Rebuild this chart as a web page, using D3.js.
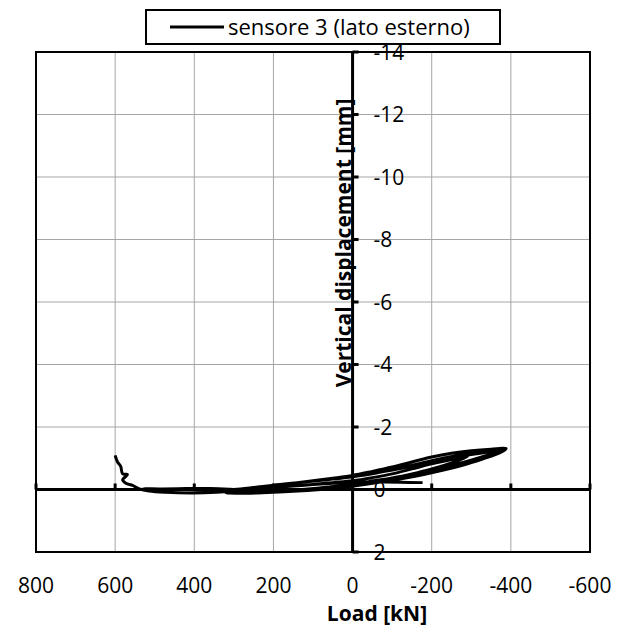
<!DOCTYPE html>
<html>
<head>
<meta charset="utf-8">
<script src="https://cdn.jsdelivr.net/npm/d3@7"></script>
<style>
  body { margin: 0; background: #fff; }
  text { font-family: "Open Sans", sans-serif; fill: #000; }
</style>
</head>
<body>
<div id="dataViz"></div>
<script>
const width = 630;
const height = 633;
const margin = { top: 52, right: 40, bottom: 81, left: 36 };

// axis ticks
const xTicks = [800, 600, 400, 200, 0, -200, -400, -600];
const yTicks = [-14, -12, -10, -8, -6, -4, -2, 0, 2];

// Load [kN]
const loadKN = [
  600, 594, 586, 581, 569, 581, 573, 556, 539, 514, 472, 404, 345, 303,
  250, 200, 150, 100, 50, 0, -50, -100, -150, -200, -250, -290,
  -250, -200, -150, -100, -50, 0, 50, 100, 150, 200, 250, 300,
  250, 200, 150, 100, 50, 0, -50, -100, -150, -200, -250, -300, -350, -388,
  -370, -330, -280, -230, -180, -130, -80, -30, 20, 80, 150, 220, 290, 320,
  260, 200, 140, 80, 20, -40, -100, -160, -220, -280, -330, -370, -385,
  -360, -310, -260, -210, -160, -110, -60, -10, 40, 100, 170, 240, 300,
  360, 420, 480, 530, 480, 420, 360, 300,
  240, 180, 120, 60, 0, -60, -120, -180, -240, -300, -350, -375,
  -350, -300, -250, -200, -150, -100, -50, 0, 60, 120, 180, 250, 280,
  220, 160, 100, 40, 0, -60, -120, -177
];

// Vertical displacement [mm]
const dispMM = [
  -1.09, -0.88, -0.74, -0.50, -0.48, -0.31, -0.20, -0.13, -0.02, 0.05, 0.09, 0.11, 0.09, 0.05,
  0.00, -0.06, -0.11, -0.16, -0.22, -0.28, -0.38, -0.50, -0.66, -0.82, -0.96, -1.05,
  -0.85, -0.66, -0.50, -0.36, -0.24, -0.14, -0.06, 0.00, 0.05, 0.09, 0.11, 0.09,
  -0.02, -0.12, -0.20, -0.28, -0.36, -0.45, -0.58, -0.72, -0.88, -1.04, -1.16, -1.24, -1.29, -1.31,
  -1.16, -0.98, -0.78, -0.62, -0.48, -0.36, -0.26, -0.16, -0.07, 0.00, 0.06, 0.10, 0.12, 0.10,
  -0.04, -0.14, -0.22, -0.30, -0.39, -0.50, -0.64, -0.80, -0.98, -1.12, -1.22, -1.28, -1.32,
  -1.18, -0.98, -0.80, -0.64, -0.50, -0.38, -0.27, -0.17, -0.08, 0.00, 0.05, 0.04, 0.00,
  -0.03, -0.03, -0.02, -0.02, 0.00, 0.00, 0.01, 0.00,
  -0.08, -0.16, -0.24, -0.32, -0.41, -0.53, -0.67, -0.82, -0.98, -1.12, -1.21, -1.25,
  -1.10, -0.92, -0.76, -0.62, -0.49, -0.37, -0.27, -0.17, -0.08, -0.01, 0.04, 0.07, 0.07,
  -0.03, -0.10, -0.16, -0.21, -0.24, -0.24, -0.23, -0.22
];

const data = loadKN.map((d, i) => ({ load: d, disp: dispMM[i] }));

const svg = d3.select("#dataViz").append("svg")
  .attr("width", width)
  .attr("height", height);

const x = d3.scaleLinear()
  .domain([800, -600])
  .range([margin.left, width - margin.right]);

const y = d3.scaleLinear()
  .domain([-14, 2])
  .range([margin.top, height - margin.bottom]);

// Gridlines
svg.append("g")
  .selectAll("line")
  .data(xTicks)
  .join("line")
  .attr("x1", d => x(d)).attr("x2", d => x(d))
  .attr("y1", y(-14)).attr("y2", y(2))
  .attr("stroke", "#a6a6a6")
  .attr("stroke-width", 1);

svg.append("g")
  .selectAll("line")
  .data(yTicks)
  .join("line")
  .attr("x1", x(800)).attr("x2", x(-600))
  .attr("y1", d => y(d)).attr("y2", d => y(d))
  .attr("stroke", "#a6a6a6")
  .attr("stroke-width", 1);

// Plot area border
svg.append("rect")
  .attr("x", x(800))
  .attr("y", y(-14))
  .attr("width", x(-600) - x(800))
  .attr("height", y(2) - y(-14))
  .attr("fill", "none")
  .attr("stroke", "#000")
  .attr("stroke-width", 2);

// Y axis at load = 0
svg.append("line")
  .attr("x1", x(0)).attr("x2", x(0))
  .attr("y1", y(-14)).attr("y2", y(2))
  .attr("stroke", "#000")
  .attr("stroke-width", 3);

svg.append("g")
  .selectAll("line")
  .data(yTicks)
  .join("line")
  .attr("x1", x(0)).attr("x2", x(0) + 6)
  .attr("y1", d => y(d)).attr("y2", d => y(d))
  .attr("stroke", "#000")
  .attr("stroke-width", 3);

svg.append("g")
  .selectAll("text")
  .data(yTicks)
  .join("text")
  .attr("x", x(0) + 21)
  .attr("y", d => y(d))
  .attr("dy", "0.36em")
  .style("font-size", "21px")
  .text(d => d);

// X axis at displacement = 0
svg.append("line")
  .attr("x1", x(800)).attr("x2", x(-600))
  .attr("y1", y(0)).attr("y2", y(0))
  .attr("stroke", "#000")
  .attr("stroke-width", 3);

svg.append("g")
  .selectAll("line")
  .data(xTicks)
  .join("line")
  .attr("x1", d => x(d)).attr("x2", d => x(d))
  .attr("y1", y(0)).attr("y2", y(0) - 6)
  .attr("stroke", "#000")
  .attr("stroke-width", 3);

svg.append("g")
  .selectAll("text")
  .data(xTicks)
  .join("text")
  .attr("x", d => x(d))
  .attr("y", 593)
  .style("font-size", "21px")
  .style("text-anchor", "middle")
  .text(d => d);

// Data line
const line = d3.line()
  .x(d => x(d.load))
  .y(d => y(d.disp))
  .curve(d3.curveCatmullRom);

svg.append("path")
  .datum(data)
  .attr("fill", "none")
  .attr("stroke", "#000")
  .attr("stroke-width", 3)
  .attr("stroke-linejoin", "round")
  .attr("d", line);

// Axis titles
svg.append("text")
  .attr("x", 377)
  .attr("y", 621)
  .style("text-anchor", "middle")
  .style("font-size", "21px")
  .style("font-weight", "bold")
  .text("Load [kN]");

svg.append("text")
  .attr("transform", "translate(351, 243) rotate(-90)")
  .style("text-anchor", "middle")
  .style("font-size", "21px")
  .style("font-weight", "bold")
  .text("Vertical displacement [mm]");

// Legend
svg.append("rect")
  .attr("x", 146).attr("y", 10)
  .attr("width", 354).attr("height", 34)
  .attr("fill", "#fff")
  .attr("stroke", "#000")
  .attr("stroke-width", 2);

svg.append("line")
  .attr("x1", 170).attr("x2", 224)
  .attr("y1", 27).attr("y2", 27)
  .attr("stroke", "#000")
  .attr("stroke-width", 3);

svg.append("text")
  .attr("x", 228)
  .attr("y", 35)
  .style("font-size", "22px")
  .text("sensore 3 (lato esterno)");
</script>
</body>
</html>
